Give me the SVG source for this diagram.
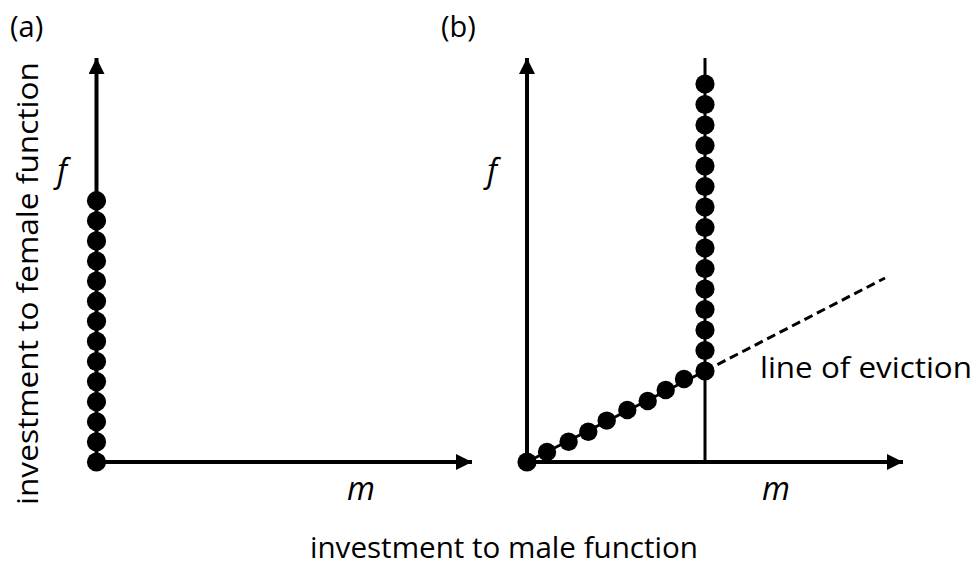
<svg xmlns="http://www.w3.org/2000/svg" width="975" height="567" viewBox="0 0 975 567">
<style>
.t{font-family:"Open Sans","Liberation Sans",sans-serif;fill:#000}
.lab{font-size:29px}
.big{font-size:30px}
.var{font-size:32px;font-style:italic}
.axis{stroke:#000;stroke-width:4;fill:none}
.thin{stroke:#000;stroke-width:3;fill:none}
.dash{stroke:#000;stroke-width:3;fill:none;stroke-dasharray:9 5}
.dot{fill:#000}
</style>
<defs>
<marker id="ah" markerUnits="userSpaceOnUse" markerWidth="16" markerHeight="16" viewBox="0 0 14 14" refX="14" refY="7" orient="auto">
<path d="M0,0 L14,7 L0,14 Z" fill="#000"/>
</marker>
</defs>
<rect width="975" height="567" fill="#fff"/>
<g id="panel-a">
<text class="t lab" x="10" y="37">(a)</text>
<g id="axes-a">
<line class="axis" x1="96.5" y1="462" x2="96.5" y2="58" marker-end="url(#ah)"/>
<line class="axis" x1="96.5" y1="462" x2="472" y2="462" marker-end="url(#ah)"/>
</g>
<text class="t var" x="57" y="182">f</text>
<text class="t var" x="347" y="500">m</text>
<g id="dots-a" class="dot">
<circle cx="96.5" cy="462" r="9.6"/>
<circle cx="96.5" cy="441.9" r="9.6"/>
<circle cx="96.5" cy="421.8" r="9.6"/>
<circle cx="96.5" cy="401.7" r="9.6"/>
<circle cx="96.5" cy="381.6" r="9.6"/>
<circle cx="96.5" cy="361.5" r="9.6"/>
<circle cx="96.5" cy="341.4" r="9.6"/>
<circle cx="96.5" cy="321.3" r="9.6"/>
<circle cx="96.5" cy="301.2" r="9.6"/>
<circle cx="96.5" cy="281.1" r="9.6"/>
<circle cx="96.5" cy="261" r="9.6"/>
<circle cx="96.5" cy="240.9" r="9.6"/>
<circle cx="96.5" cy="220.8" r="9.6"/>
<circle cx="96.5" cy="200.7" r="9.6"/>
</g>
</g>
<g id="panel-b">
<text class="t lab" x="441" y="37">(b)</text>
<g id="connectors">
<line class="thin" x1="705" y1="58" x2="705" y2="462"/>
<line class="thin" x1="527" y1="462" x2="705" y2="371"/>
<line class="dash" x1="705" y1="371" x2="885" y2="278"/>
</g>
<g id="axes-b">
<line class="axis" x1="527" y1="462" x2="527" y2="58" marker-end="url(#ah)"/>
<line class="axis" x1="527" y1="462" x2="903" y2="462" marker-end="url(#ah)"/>
</g>
<text class="t var" x="487" y="182">f</text>
<text class="t var" x="762" y="500">m</text>
<g id="dots-b-vertical" class="dot">
<circle cx="705" cy="371" r="9.6"/>
<circle cx="705" cy="350.5" r="9.6"/>
<circle cx="705" cy="330" r="9.6"/>
<circle cx="705" cy="309.5" r="9.6"/>
<circle cx="705" cy="289" r="9.6"/>
<circle cx="705" cy="268.5" r="9.6"/>
<circle cx="705" cy="248" r="9.6"/>
<circle cx="705" cy="227.5" r="9.6"/>
<circle cx="705" cy="207" r="9.6"/>
<circle cx="705" cy="186.5" r="9.6"/>
<circle cx="705" cy="166" r="9.6"/>
<circle cx="705" cy="145.5" r="9.6"/>
<circle cx="705" cy="125" r="9.6"/>
<circle cx="705" cy="104.5" r="9.6"/>
<circle cx="705" cy="84" r="9.6"/>
</g>
<g id="dots-b-diagonal" class="dot">
<circle cx="527" cy="462" r="9.6"/>
<circle cx="547" cy="451.9" r="9.2"/>
<circle cx="568.6" cy="441.8" r="9.2"/>
<circle cx="588.3" cy="431.7" r="9.2"/>
<circle cx="606.7" cy="420.6" r="9.2"/>
<circle cx="627.3" cy="410" r="9.2"/>
<circle cx="647.7" cy="401" r="9.2"/>
<circle cx="665.7" cy="390" r="9.2"/>
<circle cx="684" cy="379" r="9.2"/>
</g>
<text class="t big" x="760" y="378" textLength="212" lengthAdjust="spacingAndGlyphs">line of eviction</text>
</g>
<g id="axis-titles">
<text class="t big" x="310" y="558" textLength="388" lengthAdjust="spacingAndGlyphs">investment to male function</text>
<text class="t big" transform="translate(38,505) rotate(-90)" x="0" y="0" textLength="443" lengthAdjust="spacingAndGlyphs">investment to female function</text>
</g>
</svg>
